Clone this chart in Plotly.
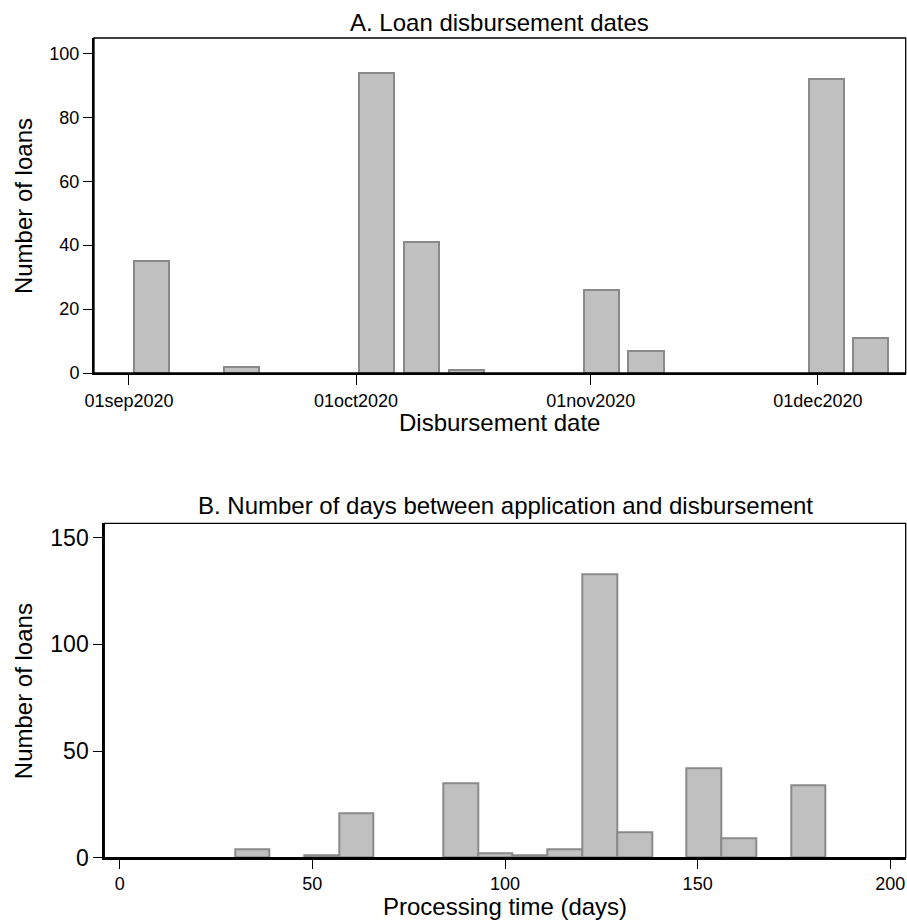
import plotly.graph_objects as go

# ---- Panel A: loan disbursement dates (histogram, 17 bins) ----
# bin centres in days after 01sep2020
disb_bin_centers = [3.0, 8.9, 14.9, 20.8, 26.8, 32.7, 38.6, 44.6, 50.5,
                    56.5, 62.4, 68.3, 74.3, 80.2, 86.2, 92.1, 98.0]
disb_counts = [35, 0, 2, 0, 0, 94, 41, 1, 0, 0, 26, 7, 0, 0, 0, 92, 11]
disb_tick_days = [0, 30, 61, 91]
disb_tick_labels = ["01sep2020", "01oct2020", "01nov2020", "01dec2020"]

# ---- Panel B: processing time (days), 17 bins ----
proc_bin_centers = [34.4, 43.4, 52.4, 61.4, 70.4, 79.5, 88.5, 97.5, 106.5,
                    115.5, 124.6, 133.6, 142.6, 151.6, 160.6, 169.7, 178.7]
proc_counts = [4, 0, 1, 21, 0, 0, 35, 2, 1, 4, 133, 12, 0, 42, 9, 0, 34]
proc_ticks = [0, 50, 100, 150, 200]

FONT = "Liberation Sans, Arial, Helvetica, sans-serif"
W, H = 907, 921
BAR_FILL = "#c0c0c0"
BAR_LINE = "#8a8a8a"


def nz(xs, ys):
    pairs = [(x, y) for x, y in zip(xs, ys) if y > 0]
    return [p[0] for p in pairs], [p[1] for p in pairs]


fig = go.Figure()

xa, ya = nz(disb_bin_centers, disb_counts)
fig.add_trace(go.Bar(x=xa, y=ya, width=4.65, xaxis="x", yaxis="y",
                     marker=dict(color=BAR_FILL, line=dict(color=BAR_LINE, width=2)),
                     showlegend=False, hoverinfo="x+y"))

xb, yb = nz(proc_bin_centers, proc_counts)
fig.add_trace(go.Bar(x=xb, y=yb, width=9.02, xaxis="x2", yaxis="y2",
                     marker=dict(color=BAR_FILL, line=dict(color=BAR_LINE, width=2)),
                     showlegend=False, hoverinfo="x+y"))

# plot areas in pixels
A_L, A_R, A_T, A_B = 94, 905.7, 38, 373
B_L, B_R, B_T, B_B = 104.3, 905.7, 523.3, 857.7


def px(xp):
    return xp / W


def py(yp):
    return 1 - yp / H


axis_common = dict(showgrid=False, zeroline=False, showline=True, linecolor="black",
                   linewidth=2, ticks="outside", tickcolor="black", tickwidth=1,
                   mirror=False, automargin=False)

fig.update_layout(
    width=W, height=H,
    margin=dict(l=0, r=0, t=0, b=0, pad=0),
    paper_bgcolor="white", plot_bgcolor="white",
    font=dict(family=FONT, color="black"),
    xaxis=dict(domain=[px(A_L), px(A_R)], range=[-4.62, 102.6], anchor="y",
               tickvals=disb_tick_days, ticktext=disb_tick_labels, ticklen=10,
               tickfont=dict(size=18), **axis_common),
    yaxis=dict(domain=[py(A_B), py(A_T)], range=[0, 104.8], anchor="x",
               tickvals=[0, 20, 40, 60, 80, 100], ticklen=9,
               tickfont=dict(size=18), **axis_common),
    xaxis2=dict(domain=[px(B_L), px(B_R)], range=[-4.0, 204.0], anchor="y2",
                tickvals=proc_ticks, ticklen=9,
                tickfont=dict(size=18), **axis_common),
    yaxis2=dict(domain=[py(B_B), py(B_T)], range=[0, 156.8], anchor="x2",
                tickvals=[0, 50, 100, 150], ticklen=9,
                tickfont=dict(size=23), **axis_common),
    shapes=[
        dict(type="rect", xref="x domain", yref="y domain", x0=0, x1=1, y0=0, y1=1,
             line=dict(color="black", width=1.3), fillcolor="rgba(0,0,0,0)", layer="above"),
        dict(type="rect", xref="x2 domain", yref="y2 domain", x0=0, x1=1, y0=0, y1=1,
             line=dict(color="black", width=1.3), fillcolor="rgba(0,0,0,0)", layer="above"),
    ],
    bargap=0,
)

ann = [
    dict(text="A. Loan disbursement dates", x=px((A_L + A_R) / 2), y=py(22),
         font=dict(size=24)),
    dict(text="Disbursement date", x=px((A_L + A_R) / 2), y=py(422),
         font=dict(size=24)),
    dict(text="Number of loans", x=px(23.4), y=py(205.7), textangle=-90,
         font=dict(size=24)),
    dict(text="B. Number of days between application and disbursement",
         x=px((B_L + B_R) / 2), y=py(505.8), font=dict(size=24)),
    dict(text="Processing time (days)", x=px((B_L + B_R) / 2), y=py(906.5),
         font=dict(size=24)),
    dict(text="Number of loans", x=px(23.4), y=py(690.8), textangle=-90,
         font=dict(size=24)),
]
for a in ann:
    a.update(xref="paper", yref="paper", showarrow=False, xanchor="center",
             yanchor="middle")
fig.update_layout(annotations=ann)

fig.write_html("out.html",
               post_script="document.body.style.margin='0';"
                           "document.body.style.overflow='hidden';")
